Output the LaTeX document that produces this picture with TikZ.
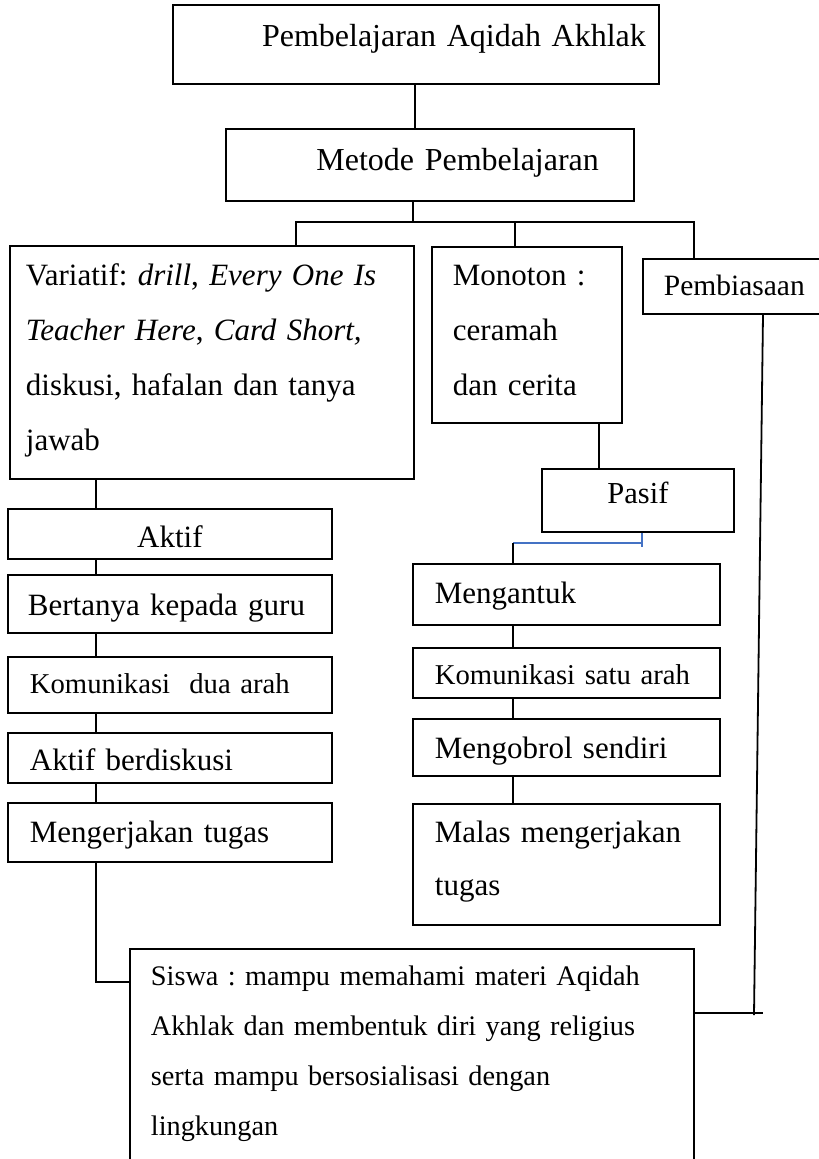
\documentclass[tikz,border=0pt]{standalone}
\usepackage{fontspec}
\setmainfont{Liberation Serif}
\usepackage{tikz}
\frenchspacing

\definecolor{garisbiru}{RGB}{68,114,196}

\tikzset{
  kotak/.style={draw, rectangle, line width=1.8pt, anchor=north west, inner ysep=0pt, align=left},
  besar/.style={font=\fontsize{32}{40}\selectfont},
  sedang/.style={font=\fontsize{31}{55}\selectfont},
  kecil/.style={font=\fontsize{28.7}{50}\selectfont},
  garis/.style={line width=1.8pt},
  biru/.style={line width=1.6pt, draw=garisbiru}
}

\begin{document}
\begin{tikzpicture}[x=1pt, y=-1pt]
\useasboundingbox (0,0) rectangle (819,1159);
\clip (0,0) rectangle (819,1159);

% puncak
\node[kotak, besar, align=right, inner xsep=13pt, text width=460pt, text height=42pt, text depth=37pt] (judul) at (172,4) {Pembelajaran Aqidah Akhlak};
\node[kotak, besar, align=right, inner xsep=35pt, text width=338pt, text height=42pt, text depth=30pt] (metode) at (225,128) {Metode Pembelajaran};

% tiga cabang metode
\node[kotak, sedang, inner xsep=16pt, text width=372pt, text height=40pt, text depth=193pt] (variatif) at (9,245) {Variatif: \textit{drill}, \textit{Every One Is}\\\textit{Teacher Here}, \textit{Card Short,}\\diskusi, hafalan dan tanya\\jawab};
\node[kotak, sedang, inner xsep=21pt, text width=148pt, text height=39pt, text depth=137pt] (monoton) at (431,246) {Monoton :\\ceramah\\dan cerita};
\node[kotak, font=\fontsize{29.5}{35}\selectfont, inner xsep=21pt, text width=400pt, text height=37pt, text depth=18pt] (pembiasaan) at (642,258) {Pembiasaan};

% kolom kiri
\node[kotak, sedang, align=center, inner xsep=20pt, text width=284pt, text height=39pt, text depth=11pt] (aktif) at (7,508) {Aktif};
\node[kotak, sedang, inner xsep=20pt, text width=284pt, text height=41pt, text depth=17pt] (bertanya) at (7,574) {Bertanya kepada guru};
\node[kotak, kecil, inner xsep=22pt, text width=280pt, text height=37pt, text depth=19pt] (komdua) at (7,656) {Komunikasi\ \ dua arah};
\node[kotak, sedang, inner xsep=22pt, text width=280pt, text height=38pt, text depth=12pt] (diskusi) at (7,732) {Aktif berdiskusi};
\node[kotak, sedang, inner xsep=22pt, text width=280pt, text height=40pt, text depth=19pt] (tugas) at (7,802) {Mengerjakan tugas};

% kolom kanan
\node[kotak, font=\fontsize{30.5}{35}\selectfont, align=center, inner xsep=20pt, text width=152pt, text height=35pt, text depth=28pt] (pasif) at (541,468) {Pasif};
\node[kotak, sedang, inner xsep=22pt, text width=263pt, text height=40pt, text depth=21pt] (mengantuk) at (412,563) {Mengantuk};
\node[kotak, kecil, inner xsep=22pt, text width=263pt, text height=37pt, text depth=13pt] (komsatu) at (412,647) {Komunikasi satu arah};
\node[kotak, sedang, inner xsep=22pt, text width=263pt, text height=40pt, text depth=17pt] (mengobrol) at (412,718) {Mengobrol sendiri};
\node[kotak, font=\fontsize{31}{53}\selectfont, inner xsep=22pt, text width=263pt, text height=39pt, text depth=82pt] (malas) at (412,803) {Malas mengerjakan\\tugas};

% hasil
\node[kotak, font=\fontsize{28.3}{50}\selectfont, inner xsep=21pt, text width=522pt, text height=37pt, text depth=185pt] (siswa) at (129,948) {Siswa : mampu memahami materi Aqidah\\Akhlak dan membentuk diri yang religius\\serta mampu bersosialisasi dengan\\lingkungan};

% garis penghubung
\coordinate (cabang) at (413,222);
\coordinate (belok) at (513,543);
\coordinate (ujung) at (754,1015);

\draw[garis] (judul.south -| 415,0) -- (metode.north -| 415,0);
\draw[garis] (metode.south -| cabang) -- (cabang);
\draw[garis] (variatif.north -| 296,0) |- (cabang) -| (pembiasaan.north -| 694,0);
\draw[garis] (monoton.north -| 515,0) -- (cabang -| 515,0);

\foreach \a/\b in {variatif/aktif, aktif/bertanya, bertanya/komdua, komdua/diskusi, diskusi/tugas}
  \draw[garis] (\a.south -| 96,0) -- (\b.north -| 96,0);
\draw[garis] (tugas.south -| 96,0) |- (siswa.west |- 0,982);

\draw[garis] (monoton.south -| 599,0) -- (pasif.north -| 599,0);
\draw[biru] (pasif.south -| 642,0) -- (642,547);
\draw[biru] (642,543) -- (belok);
\draw[garis] (belok) -- (mengantuk.north -| belok);
\foreach \a/\b in {mengantuk/komsatu, komsatu/mengobrol, mengobrol/malas}
  \draw[garis] (\a.south -| belok) -- (\b.north -| belok);

\draw[garis] (pembiasaan.south -| 763,0) -- (ujung);
\draw[garis] (siswa.east |- 0,1013) -- (763,1013);
\end{tikzpicture}
\end{document}
